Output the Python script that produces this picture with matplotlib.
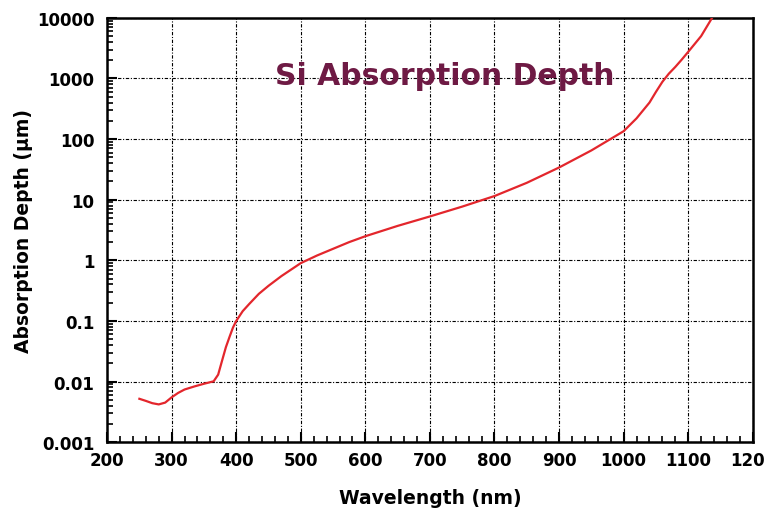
import numpy as np
import matplotlib.pyplot as plt
from matplotlib.ticker import FixedLocator, NullFormatter, LogLocator
from matplotlib.transforms import ScaledTranslation

# values
wavelength_nm = [250, 260, 270, 280, 290, 300, 310, 320, 335, 350, 365, 372,
                 378, 384, 390, 395, 400, 410, 420, 435, 450, 470, 500, 525,
                 550, 575, 600, 650, 700, 750, 800, 850, 900, 950, 1000, 1020,
                 1040, 1050, 1060, 1070, 1080, 1090, 1100, 1120, 1137]
depth_um = [0.0052, 0.0048, 0.0044, 0.0042, 0.0045, 0.0055, 0.0065, 0.0074,
            0.0083, 0.0092, 0.0101, 0.013, 0.022, 0.037, 0.056, 0.078, 0.10,
            0.145, 0.19, 0.28, 0.38, 0.55, 0.9, 1.2, 1.55, 2.0, 2.5, 3.7, 5.3,
            7.7, 11.5, 19, 34, 65, 135, 220, 400, 600, 880, 1200, 1550, 2050,
            2750, 5000, 10000]

x_ticks = [200, 300, 400, 500, 600, 700, 800, 900, 1000, 1100, 1200]
y_ticks = [0.001, 0.01, 0.1, 1, 10, 100, 1000, 10000]
y_labels = ['0.001', '0.01', '0.1', '1', '10', '100', '1000', '10000']

plt.rcParams['font.family'] = ['DejaVu Sans']
plt.rcParams['font.weight'] = 'bold'

fig = plt.figure(figsize=(7.65, 5.1), dpi=100)
ax = fig.add_axes([0.140, 0.131, 0.844, 0.832])

ax.plot(wavelength_nm, depth_um, color='#e3262c', lw=1.6, zorder=3)

ax.set_yscale('log')
ax.set_xlim(200, 1200)
ax.set_ylim(0.001, 10000)

ax.set_xticks(x_ticks)
ax.set_xticklabels([str(v) for v in x_ticks[:-1]] + ['120'])
ax.xaxis.set_minor_locator(FixedLocator(np.arange(200, 1201, 20)))
ax.set_yticks(y_ticks)
ax.set_yticklabels(y_labels)
ax.yaxis.set_minor_locator(LogLocator(base=10, subs=np.arange(2, 10)))
ax.yaxis.set_minor_formatter(NullFormatter())

ax.tick_params(which='both', direction='in', top=False, right=False)
ax.tick_params(which='major', length=7, width=1.5, labelsize=12)
ax.tick_params(axis='x', which='major', pad=6)
ax.tick_params(axis='y', which='major', pad=9)
ax.tick_params(which='minor', length=4, width=1.2)
for lab in ax.get_xticklabels() + ax.get_yticklabels():
    lab.set_fontweight('bold')
# the last x label is clipped by the image edge in the source; nudge it in
last = ax.get_xticklabels()[-1]
last.set_transform(last.get_transform() + ScaledTranslation(-5 / 100, 0, fig.dpi_scale_trans))

ax.grid(True, which='major', color='black', linestyle=(0, (1, 1.5, 3, 1.5)), lw=0.8)
for s in ax.spines.values():
    s.set_linewidth(1.8)

ax.set_xlabel('Wavelength (nm)', fontsize=13.5, fontweight='bold', labelpad=14)
ax.set_ylabel('Absorption Depth (µm)', fontsize=13.5, fontweight='bold', labelpad=3)

ax.text(0.523, 1100, 'Si Absorption Depth', transform=ax.get_yaxis_transform(),
        ha='center', va='center', fontsize=21.5, fontweight='bold',
        color='#6e1a44', zorder=4)

fig.savefig('out.png', dpi=100)
